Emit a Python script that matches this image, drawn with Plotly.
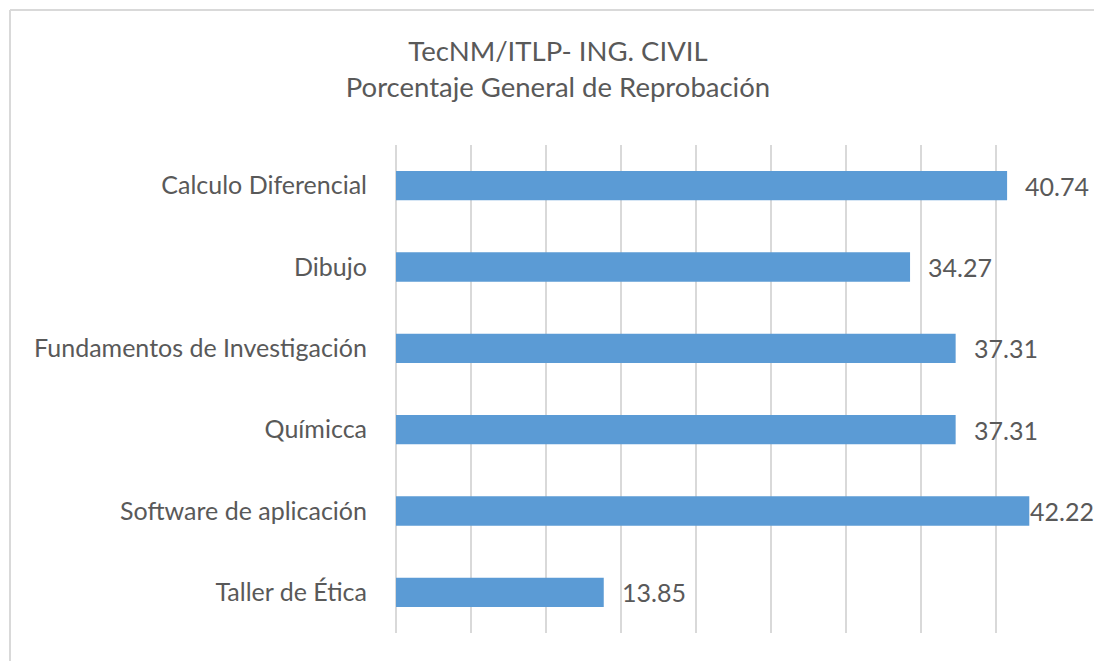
import plotly.graph_objects as go

categories = ["Calculo Diferencial", "Dibujo", "Fundamentos de Investigación",
              "Químicca", "Software de aplicación", "Taller de Ética"]
values = [40.74, 34.27, 37.31, 37.31, 42.22, 13.85]
title_lines = ["TecNM/ITLP- ING. CIVIL", "Porcentaje General de Reprobación"]

FONT = "Lato, Calibri, Carlito, sans-serif"
TXT = "#595959"

fig = go.Figure(go.Bar(
    x=values, y=categories, orientation="h",
    marker=dict(color="#5B9BD5", line=dict(width=0)),
    width=0.36, hoverinfo="x+y",
))

for c, v in zip(categories, values):
    fig.add_annotation(x=v, y=c, text=f"{v:.2f}", showarrow=False,
                       xanchor="left", yanchor="middle",
                       xshift=16 if v < 41 else -1,
                       font=dict(family=FONT, size=25, color=TXT))

fig.update_layout(
    width=1094, height=661,
    margin=dict(l=396, r=23, t=145, b=28),
    paper_bgcolor="white", plot_bgcolor="white",
    showlegend=False,
    title=dict(text="<br>".join(title_lines), x=0.51, xanchor="center",
               y=0.908, yanchor="top",
               font=dict(family=FONT, size=27.5, color=TXT)),
    xaxis=dict(range=[0, 45], dtick=5, showticklabels=False,
               showgrid=True, gridcolor="#D9D9D9", gridwidth=2,
               zeroline=True, zerolinecolor="#D9D9D9", zerolinewidth=2,
               showline=False, ticks=""),
    yaxis=dict(autorange="reversed", showgrid=False, showline=False,
               ticks="", ticklabelstandoff=28,
               tickfont=dict(family=FONT, size=25, color=TXT)),
    shapes=[
        dict(type="line", xref="paper", yref="paper",
             x0=(10 - 396) / 675, x1=(1100 - 396) / 675,
             y0=1 + (145 - 10) / 488, y1=1 + (145 - 10) / 488,
             line=dict(color="#D9D9D9", width=2)),
        dict(type="line", xref="paper", yref="paper",
             x0=(10 - 396) / 675, x1=(10 - 396) / 675,
             y0=1 + (145 - 10) / 488, y1=-(28 + 10) / 488,
             line=dict(color="#D9D9D9", width=2)),
    ],
)

fig.write_html("out.html", config={"displayModeBar": False},
               post_script="document.body.style.margin='0';document.body.style.overflow='hidden';")
